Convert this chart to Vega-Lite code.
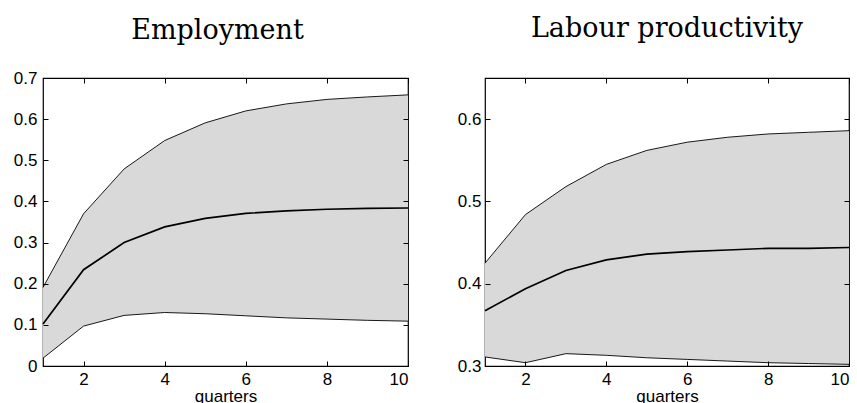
{
  "$schema": "https://vega.github.io/schema/vega-lite/v6.json",
  "padding": {"left": 12, "top": 13, "right": 5, "bottom": 0},
  "spacing": 44,
  "background": "white",
  "config": {
    "view": {"stroke": "black", "strokeWidth": 1.2},
    "axis": {
      "domain": false,
      "grid": false,
      "labelFont": "Liberation Sans",
      "labelFontSize": 17,
      "labelColor": "black",
      "titleFont": "Liberation Sans",
      "titleFontSize": 17,
      "titleFontWeight": "normal",
      "titleColor": "black"
    },
    "title": {"font": "DejaVu Serif", "fontSize": 27, "fontWeight": "normal", "color": "black"}
  },
  "datasets": {
    "emp": [
      {"q": 1, "lo": 0.019, "mid": 0.102, "hi": 0.191},
      {"q": 2, "lo": 0.097, "mid": 0.234, "hi": 0.370},
      {"q": 3, "lo": 0.123, "mid": 0.300, "hi": 0.479},
      {"q": 4, "lo": 0.130, "mid": 0.338, "hi": 0.548},
      {"q": 5, "lo": 0.127, "mid": 0.359, "hi": 0.591},
      {"q": 6, "lo": 0.122, "mid": 0.371, "hi": 0.620},
      {"q": 7, "lo": 0.117, "mid": 0.377, "hi": 0.637},
      {"q": 8, "lo": 0.114, "mid": 0.381, "hi": 0.648},
      {"q": 9, "lo": 0.111, "mid": 0.383, "hi": 0.654},
      {"q": 10, "lo": 0.109, "mid": 0.384, "hi": 0.659}
    ],
    "lab": [
      {"q": 1, "lo": 0.311, "mid": 0.367, "hi": 0.425},
      {"q": 2, "lo": 0.304, "mid": 0.394, "hi": 0.484},
      {"q": 3, "lo": 0.315, "mid": 0.416, "hi": 0.518},
      {"q": 4, "lo": 0.313, "mid": 0.429, "hi": 0.545},
      {"q": 5, "lo": 0.310, "mid": 0.436, "hi": 0.562},
      {"q": 6, "lo": 0.308, "mid": 0.439, "hi": 0.572},
      {"q": 7, "lo": 0.306, "mid": 0.441, "hi": 0.578},
      {"q": 8, "lo": 0.304, "mid": 0.443, "hi": 0.582},
      {"q": 9, "lo": 0.303, "mid": 0.443, "hi": 0.584},
      {"q": 10, "lo": 0.302, "mid": 0.444, "hi": 0.586}
    ]
  },
  "hconcat": [
    {
      "title": {"text": "Employment", "offset": 24, "dx": -8},
      "width": 365,
      "height": 288,
      "data": {"name": "emp"},
      "layer": [
        {
          "mark": {"type": "area", "color": "#d9d9d9", "clip": true},
          "encoding": {
            "x": {"field": "q", "type": "quantitative", "scale": {"domain": [1, 10], "nice": false, "zero": false}, "axis": {"orient": "bottom", "values": [2, 4, 6, 8, 10], "title": "quarters", "labelPadding": 5, "titlePadding": 1, "ticks": true, "tickSize": 5, "offset": -5, "tickColor": "black", "tickWidth": 1, "zindex": 2}},
            "y": {"field": "hi", "type": "quantitative", "scale": {"domain": [0, 0.7], "nice": false}, "axis": {"orient": "left", "values": [0, 0.1, 0.2, 0.3, 0.4, 0.5, 0.6, 0.7], "labelExpr": "datum.value == 0 ? '0' : format(datum.value, '.1f')", "title": null, "labelPadding": 6, "ticks": true, "tickSize": 5, "offset": -5, "tickColor": "black", "tickWidth": 1, "zindex": 2}},
            "y2": {"field": "lo"}
          }
        },
        {
          "mark": {"type": "line", "color": "black", "strokeWidth": 0.9},
          "encoding": {"x": {"field": "q", "type": "quantitative", "axis": null}, "y": {"field": "hi", "type": "quantitative", "axis": null}}
        },
        {
          "mark": {"type": "line", "color": "black", "strokeWidth": 0.9},
          "encoding": {"x": {"field": "q", "type": "quantitative", "axis": null}, "y": {"field": "lo", "type": "quantitative", "axis": null}}
        },
        {
          "mark": {"type": "line", "color": "black", "strokeWidth": 1.7},
          "encoding": {
            "x": {"field": "q", "type": "quantitative", "axis": {"orient": "top", "values": [2, 4, 6, 8, 10], "labels": false, "title": null, "ticks": true, "tickSize": 5, "offset": -5, "tickColor": "black", "tickWidth": 1, "zindex": 2}},
            "y": {"field": "mid", "type": "quantitative", "axis": {"orient": "right", "values": [0, 0.1, 0.2, 0.3, 0.4, 0.5, 0.6, 0.7], "labels": false, "title": null, "ticks": true, "tickSize": 5, "offset": -5, "tickColor": "black", "tickWidth": 1, "zindex": 2}}
          }
        }
      ],
      "resolve": {"axis": {"x": "independent", "y": "independent"}}
    },
    {
      "title": {"text": "Labour productivity", "offset": 35},
      "width": 364,
      "height": 288,
      "data": {"name": "lab"},
      "layer": [
        {
          "mark": {"type": "area", "color": "#d9d9d9", "clip": true},
          "encoding": {
            "x": {"field": "q", "type": "quantitative", "scale": {"domain": [1, 10], "nice": false, "zero": false}, "axis": {"orient": "bottom", "values": [2, 4, 6, 8, 10], "title": "quarters", "labelPadding": 5, "titlePadding": 1, "ticks": true, "tickSize": 5, "offset": -5, "tickColor": "black", "tickWidth": 1, "zindex": 2}},
            "y": {"field": "hi", "type": "quantitative", "scale": {"domain": [0.3, 0.65], "nice": false, "zero": false}, "axis": {"orient": "left", "values": [0.3, 0.4, 0.5, 0.6], "format": ".1f", "title": null, "labelPadding": 4, "ticks": true, "tickSize": 5, "offset": -5, "tickColor": "black", "tickWidth": 1, "zindex": 2}},
            "y2": {"field": "lo"}
          }
        },
        {
          "mark": {"type": "line", "color": "black", "strokeWidth": 0.9},
          "encoding": {"x": {"field": "q", "type": "quantitative", "axis": null}, "y": {"field": "hi", "type": "quantitative", "axis": null}}
        },
        {
          "mark": {"type": "line", "color": "black", "strokeWidth": 0.9},
          "encoding": {"x": {"field": "q", "type": "quantitative", "axis": null}, "y": {"field": "lo", "type": "quantitative", "axis": null}}
        },
        {
          "mark": {"type": "line", "color": "black", "strokeWidth": 1.7},
          "encoding": {
            "x": {"field": "q", "type": "quantitative", "axis": {"orient": "top", "values": [2, 4, 6, 8, 10], "labels": false, "title": null, "ticks": true, "tickSize": 5, "offset": -5, "tickColor": "black", "tickWidth": 1, "zindex": 2}},
            "y": {"field": "mid", "type": "quantitative", "axis": {"orient": "right", "values": [0.3, 0.4, 0.5, 0.6], "labels": false, "title": null, "ticks": true, "tickSize": 5, "offset": -5, "tickColor": "black", "tickWidth": 1, "zindex": 2}}
          }
        }
      ],
      "resolve": {"axis": {"x": "independent", "y": "independent"}}
    }
  ]
}
